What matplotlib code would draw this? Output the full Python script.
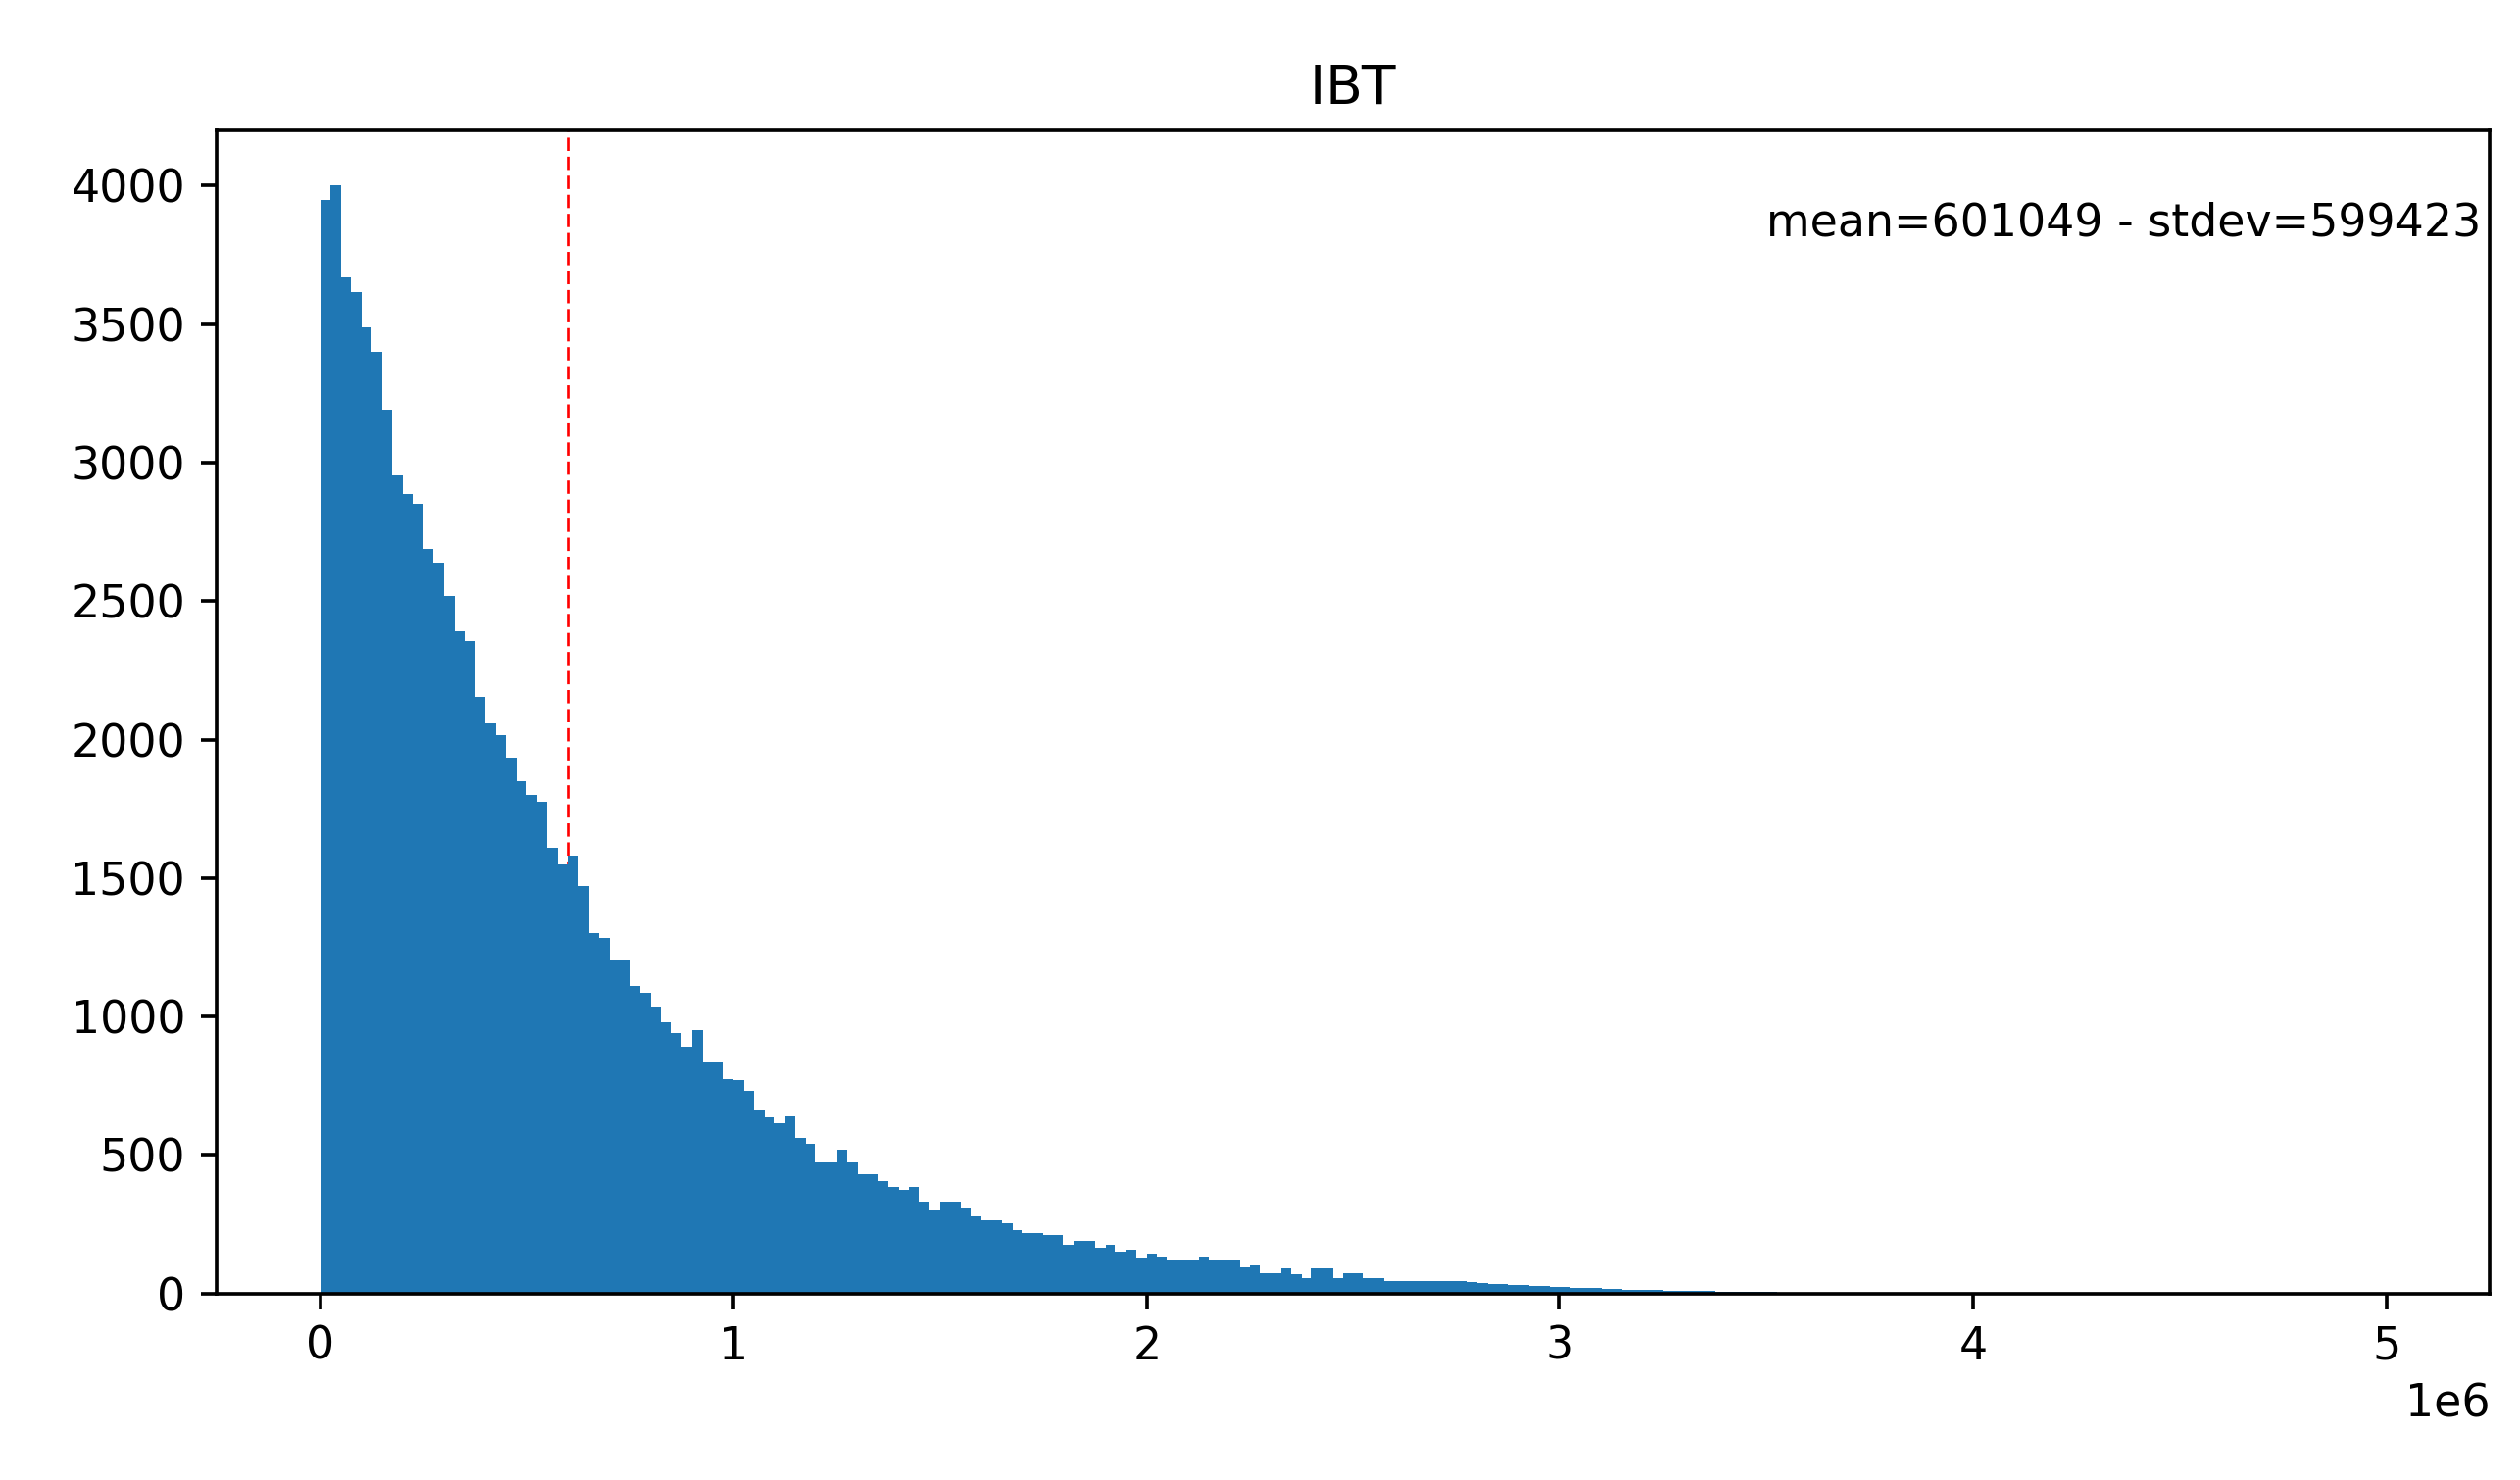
import numpy as np
import matplotlib.pyplot as plt

# histogram counts, 200 bins of 25000 over 0..5e6
head = [3950, 4000, 3670, 3615, 3490, 3400, 3190, 2955, 2885, 2850,
        2690, 2640, 2520, 2390, 2355, 2155, 2060, 2015, 1935, 1850,
        1800, 1775, 1610, 1550, 1580, 1470, 1300, 1285, 1205, 1205,
        1110, 1085, 1035, 980, 940, 890, 950, 835, 835, 775,
        770, 730, 660, 635]
mid = [615, 640, 560, 540, 475, 475, 520, 475, 430, 430,
       405, 385, 375, 385, 330, 300, 330, 330, 310, 280,
       265, 265, 255, 230, 220, 220, 210, 210, 175, 190,
       190, 165, 175, 150, 160, 125, 145, 135, 120, 120,
       120, 135, 120, 120, 120, 95, 100, 75, 75, 90,
       70, 55, 90, 90, 55, 75, 75, 55, 55, 45,
       45, 45, 45, 45, 45, 45, 45]
tail = [40, 38, 36, 34, 32, 30, 28, 27, 25, 24,
        22, 20, 19, 17, 16, 15, 14, 13, 12, 11,
        10, 9, 9, 8, 7, 7, 6, 6, 5, 5,
        4, 4, 3, 3, 3, 2, 2, 2, 2, 1,
        1, 1, 1, 1, 1, 1, 0, 1, 0, 1,
        0, 0, 1, 0, 0, 1, 0, 0, 0, 1]
counts = head + mid + tail
counts = counts + [0] * (200 - len(counts))
counts[-1] = 1
edges = np.linspace(0, 5e6, 201)

mean_val = 601049
std_val = 599423

fig = plt.figure(figsize=(2571 / 330, 1510 / 330), dpi=330)
ax = fig.add_axes([0.086, 0.126, 0.902, 0.786])
ax.axvline(mean_val, color='red', linestyle='--', linewidth=0.8, zorder=1)
ax.hist(edges[:-1], bins=edges, weights=counts, color='#1f77b4', zorder=2)
ax.set_title('IBT')
ax.text(0.996, 0.92, 'mean=%d - stdev=%d' % (mean_val, std_val),
        transform=ax.transAxes, ha='right', va='center')
ax.set_yticks(range(0, 4001, 500))

fig.savefig('out.png', dpi=330)
